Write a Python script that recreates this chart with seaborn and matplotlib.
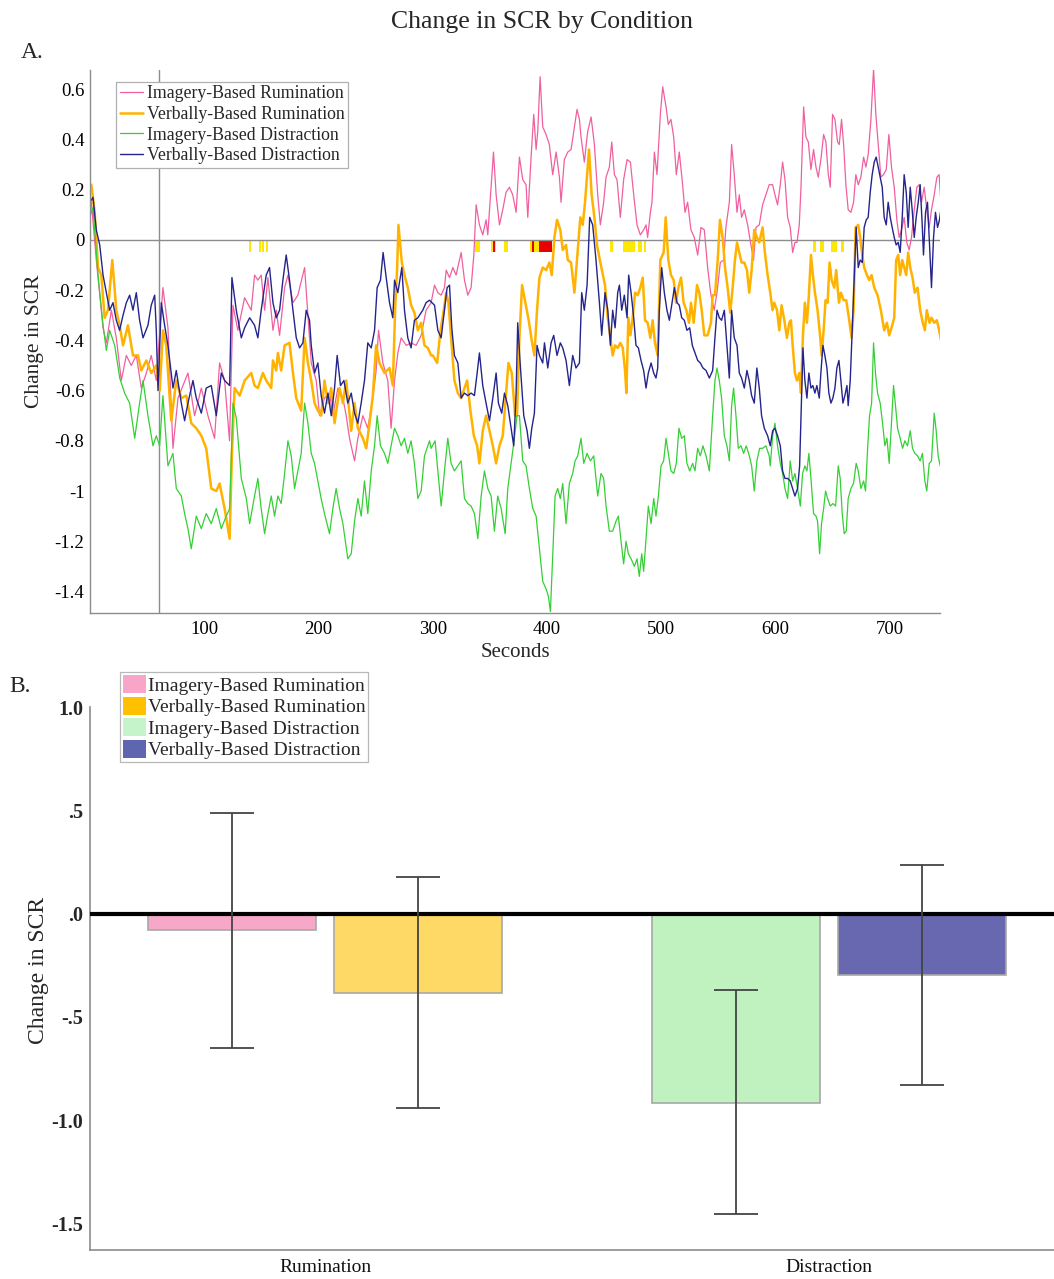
import matplotlib
matplotlib.use("Agg")
import matplotlib.pyplot as plt
from matplotlib.patches import Patch
from matplotlib.lines import Line2D
import seaborn as sns
import pandas as pd
import numpy as np

# ---------------- data: panel A (seconds, change in SCR) ----------------
imagery_rumination = [
(1.2,0.15),(5.5,-0.08),(11.4,-0.35),(14.3,-0.41),(18.7,-0.28),(23.0,-0.39),(27.4,-0.56),(31.8,-0.46),(36.1,-0.50),(40.5,-0.46),(44.9,-0.59),(49.3,-0.53),(53.6,-0.46),(58.0,-0.56),(63.8,-0.19),(68.2,-0.35),(72.6,-0.83),(77.0,-0.63),(81.3,-0.58),(85.7,-0.53),(91.5,-0.70),(97.4,-0.59),(103.2,-0.70),(109.0,-0.79),(113.4,-0.49),(117.8,-0.56),(122.1,-0.80),(125.1,-0.26),(129.4,-0.36),(135.3,-0.23),(141.1,-0.28),(144.0,-0.14),
(146.9,-0.16),(149.8,-0.14),(152.8,-0.28),(155.7,-0.15),(160.1,-0.36),(163.0,-0.28),(165.9,-0.38),(170.3,-0.19),(173.2,-0.14),(177.6,-0.25),(181.9,-0.22),(187.8,-0.11),(193.6,-0.49),(198.0,-0.56),(200.9,-0.70),(205.2,-0.63),(209.6,-0.61),(212.5,-0.70),(216.9,-0.59),(221.3,-0.63),(224.2,-0.70),(227.1,-0.79),(231.5,-0.88),(234.4,-0.79),(238.8,-0.70),(243.1,-0.75),(247.5,-0.63),(250.4,-0.52),(252.5,-0.36),(256.3,-0.49),(260.6,-0.56),(263.5,-0.75),(266.5,-0.56),(269.4,-0.45),(272.3,-0.39),(276.7,-0.42),(281.0,-0.41),(285.4,-0.42),(289.8,-0.38),(294.1,-0.28),(298.5,-0.25),
(301.5,-0.18),(304.4,-0.21),(307.3,-0.22),(310.2,-0.19),(311.7,-0.12),(314.6,-0.15),(317.5,-0.11),(320.4,-0.14),(323.3,-0.08),(324.8,-0.05),(327.7,-0.16),(330.6,-0.22),(333.5,-0.19),(335.9,-0.06),(337.9,0.14),(340.8,0.06),(343.7,0.02),(346.6,0.08),(348.1,0.02),(351.0,0.21),(353.1,0.35),(355.4,0.18),(358.3,0.06),(361.2,0.12),(364.1,0.19),(367.0,0.21),(369.9,0.18),(372.9,0.11),(375.8,0.33),(378.7,0.24),(381.6,0.22),(383.1,0.09),(386.0,0.33),(388.3,0.50),(390.4,0.36),(391.8,0.43),(393.9,0.65),(396.2,0.45),(399.1,0.42),(402.0,0.38),(404.9,0.26),(407.9,0.35),(410.8,0.25),(412.2,0.15),(415.1,0.32),(418.1,0.35),(421.0,0.36),(423.9,0.45),(426.2,0.52),(428.3,0.48),(429.7,0.41),(432.6,0.31),(435.5,0.43),(438.5,0.49),(441.4,0.38),(444.3,0.18),(446.6,0.06),
(449.5,0.15),(451.6,0.25),(454.5,0.29),(456.6,0.39),(458.9,0.26),(461.2,0.24),(464.1,0.09),(467.0,0.24),(470.0,0.32),(472.9,0.31),(475.8,0.18),(478.7,0.06),(481.6,0.02),(484.5,0.04),(486.6,0.06),(488.0,0.01),(490.4,0.11),(491.8,0.15),(493.9,0.35),(496.2,0.26),(499.1,0.50),(501.2,0.61),(504.1,0.53),(506.1,0.46),(508.4,0.48),(510.8,0.41),(513.1,0.26),(515.7,0.35),(518.6,0.22),(520.7,0.11),(523.0,0.15),(525.9,0.04),(528.8,0.01),(531.8,-0.06),(534.7,0.05),(537.6,0.04),(540.5,-0.11),(543.4,-0.22),(546.3,-0.28),(548.7,-0.21),(551.6,-0.09),(554.5,-0.08),(556.5,0.05),(559.5,0.15),(561.5,0.38),(563.8,0.26),(566.2,0.11),(568.2,0.18),(570.2,0.09),(572.6,0.12),(575.5,0.06),(578.4,-0.02),(580.7,-0.08),(582.8,0.05),(585.7,0.06),(588.6,0.14),(591.5,0.18),(594.4,0.22),
(597.4,0.22),(599.4,0.18),(601.7,0.14),(604.1,0.22),(606.1,0.31),(608.2,0.24),(610.5,0.09),(612.8,0.05),(614.9,-0.05),(616.9,-0.01),(618.7,-0.01),(620.7,0.06),(622.2,0.21),(624.5,0.53),(626.5,0.41),(628.6,0.39),(630.9,0.28),(633.2,0.36),(635.3,0.29),(637.3,0.25),(639.6,0.32),(642.0,0.42),(644.0,0.39),(646.1,0.26),(647.8,0.21),(649.8,0.50),(651.9,0.48),(654.2,0.39),(655.7,0.38),(657.7,0.48),(659.5,0.38),(661.5,0.22),(663.5,0.12),(665.9,0.11),(668.2,0.15),(670.2,0.26),(672.3,0.22),(674.6,0.25),(677.0,0.33),(679.0,0.29),(681.0,0.34),(683.4,0.48),(685.7,0.68),(687.7,0.50),(689.8,0.38),(692.1,0.25),(694.4,0.26),(696.8,0.28),(699.1,0.42),(701.4,0.29),(703.8,0.21),(706.1,0.08),(708.1,0.01),(710.2,0.04),(712.5,0.09),(714.8,-0.01),(716.9,-0.04),(718.9,0.01),(721.3,0.12),(723.6,0.21),(725.6,0.22),(727.7,0.15),(730.0,0.21),(732.3,0.12),(734.4,0.05),(736.4,0.12),(738.8,0.18),(741.1,0.25),(743.1,0.26),(745.2,0.11)]

verbal_rumination = [
(1.2,0.22),(4.1,0.11),(7.0,-0.11),(9.9,-0.14),(12.8,-0.31),(15.7,-0.28),(19.5,-0.08),(23.0,-0.28),(25.9,-0.34),(28.9,-0.42),(33.2,-0.34),(37.6,-0.46),(42.0,-0.46),(44.9,-0.52),(49.3,-0.48),(53.6,-0.53),(58.0,-0.50),(61.0,-0.60),(63.8,-0.36),(66.7,-0.42),(71.1,-0.72),(75.5,-0.56),(79.9,-0.63),(84.3,-0.62),(88.6,-0.73),(93.0,-0.75),(97.4,-0.78),(101.7,-0.83),(106.1,-0.99),(110.5,-1.00),(113.4,-0.97),(117.8,-1.07),(122.2,-1.19),(124.2,-0.85),(126.5,-0.59),(131.0,-0.62),(135.3,-0.56),(141.1,-0.53),(144.0,-0.58),
(146.9,-0.59),(151.3,-0.53),(154.2,-0.56),(158.6,-0.59),(160.1,-0.48),(163.0,-0.52),(164.4,-0.45),(167.3,-0.52),(170.3,-0.42),(174.6,-0.41),(177.6,-0.53),(180.5,-0.63),(184.8,-0.68),(187.8,-0.39),(190.7,-0.49),(193.6,-0.56),(196.5,-0.65),(199.4,-0.68),(202.3,-0.70),(205.2,-0.56),(208.2,-0.65),(211.1,-0.59),(214.0,-0.73),(218.4,-0.59),(221.3,-0.65),(224.2,-0.56),(228.6,-0.76),(231.5,-0.65),(234.4,-0.75),(238.8,-0.79),(241.7,-0.83),(244.6,-0.73),(247.5,-0.62),(250.4,-0.42),(253.3,-0.49),(257.7,-0.53),(262.1,-0.51),(265.0,-0.58),(267.0,-0.28),(268.8,-0.11),(269.9,0.06),(272.9,-0.09),(275.2,-0.14),(278.1,-0.19),(281.0,-0.26),(283.9,-0.29),(286.9,-0.36),(289.8,-0.33),(292.7,-0.42),(295.6,-0.43),(298.5,-0.46),
(300.0,-0.46),(303.8,-0.49),(306.7,-0.36),(309.6,-0.28),(311.7,-0.21),(313.7,-0.25),(316.0,-0.39),(318.9,-0.56),(321.9,-0.61),(324.8,-0.63),(327.7,-0.59),(330.0,-0.56),(332.9,-0.68),(335.9,-0.78),(338.8,-0.82),(340.8,-0.89),(343.7,-0.76),(346.6,-0.70),(349.6,-0.76),(352.5,-0.82),(355.4,-0.89),(358.3,-0.82),(361.2,-0.78),(364.1,-0.61),(366.2,-0.49),(369.1,-0.53),(372.0,-0.70),(373.7,-0.70),(375.8,-0.39),(378.1,-0.18),(381.0,-0.25),(383.9,-0.32),(386.9,-0.41),(388.9,-0.46),(391.2,-0.28),(393.3,-0.15),(396.2,-0.11),(399.1,-0.12),(402.0,-0.09),(404.1,-0.14),(406.4,0.01),(408.7,0.08),(411.6,0.04),(413.7,-0.04),(416.6,-0.02),(418.1,-0.08),(421.0,-0.09),(423.9,-0.21),(426.8,-0.04),(429.1,0.09),(431.2,0.06),(433.2,0.15),(435.0,0.26),(436.7,0.36),(439.0,0.18),(441.4,0.09),(443.7,-0.02),(446.6,-0.09),
(450.7,-0.18),(453.1,-0.31),(455.4,-0.39),(457.4,-0.46),(459.5,-0.42),(461.8,-0.43),(464.1,-0.41),(466.2,-0.43),(468.2,-0.52),(469.4,-0.61),(471.1,-0.31),(472.9,-0.38),(474.9,-0.31),(477.0,-0.21),(479.3,-0.22),(481.6,-0.19),(483.7,-0.15),(485.7,-0.32),(488.0,-0.33),(490.4,-0.39),(492.4,-0.32),(494.4,-0.41),(496.8,-0.46),(499.1,-0.08),(502.0,-0.05),(503.8,0.09),(506.1,-0.08),(508.4,-0.14),(510.8,-0.16),(512.8,-0.25),(514.9,-0.19),(517.2,-0.15),(519.5,-0.25),(521.9,-0.28),(524.2,-0.33),(525.9,-0.25),(528.3,-0.33),(531.2,-0.18),(533.2,-0.21),(535.3,-0.28),(537.6,-0.38),(540.5,-0.38),(543.4,-0.33),(544.9,-0.22),(546.9,-0.22),(549.3,-0.08),(551.3,0.08),(553.6,0.01),(555.7,-0.11),(558.0,-0.19),(560.3,-0.29),(562.4,-0.19),(564.4,-0.08),(566.2,-0.01),(568.2,-0.05),(570.2,-0.09),(572.6,-0.09),(574.9,-0.12),(576.9,-0.21),(579.0,-0.12),(581.3,0.04),(583.6,0.01),(585.7,-0.01),(588.6,0.05),(590.6,-0.05),(593.0,-0.14),(595.3,-0.21),(597.3,-0.28),
(598.8,-0.25),(601.2,-0.28),(603.2,-0.36),(605.2,-0.26),(607.6,-0.32),(609.9,-0.39),(611.9,-0.33),(613.4,-0.32),(614.9,-0.42),(616.9,-0.53),(618.7,-0.56),(620.7,-0.53),(622.2,-0.61),(623.9,-0.38),(625.6,-0.25),(627.4,-0.33),(629.1,-0.22),(630.9,-0.06),(632.6,-0.14),(634.4,-0.21),(636.7,-0.28),(639.1,-0.39),(640.2,-0.46),(642.0,-0.36),(643.7,-0.24),(645.5,-0.25),(647.2,-0.09),(649.0,-0.16),(651.3,-0.19),(653.0,-0.12),(655.4,-0.25),(657.1,-0.21),(659.5,-0.24),(661.8,-0.24),(664.1,-0.31),(666.5,-0.39),(668.2,-0.28),(670.0,0.05),(672.3,0.06),(674.0,0.01),(675.8,-0.06),(677.5,-0.11),(679.9,-0.14),(681.9,-0.16),(684.0,-0.14),(686.3,-0.19),(689.2,-0.22),(692.1,-0.28),(695.0,-0.36),(697.4,-0.33),(699.4,-0.38),(701.4,-0.35),(703.8,-0.31),(705.5,-0.08),(707.3,-0.06),(709.0,-0.14),(710.8,-0.08),(712.5,-0.11),(714.3,-0.14),(716.0,-0.05),(717.8,-0.11),(719.8,-0.15),(721.8,-0.21),(724.2,-0.19),(726.5,-0.28),(728.8,-0.33),(730.6,-0.36),(732.3,-0.28),(734.7,-0.33),(736.4,-0.31),(738.8,-0.33),(741.1,-0.32),(743.1,-0.36),(745.2,-0.41)]

imagery_distraction = [
(0.5,0.10),(2.6,0.13),(7.0,-0.14),(11.4,-0.34),(14.3,-0.44),(17.2,-0.36),(21.6,-0.42),(26.0,-0.55),(30.3,-0.61),(34.7,-0.65),(39.1,-0.79),(43.4,-0.65),(46.4,-0.56),(50.7,-0.70),(55.1,-0.82),(58.0,-0.78),(60.9,-0.82),(63.8,-0.62),(68.2,-0.90),(72.6,-0.85),(75.5,-0.99),(79.9,-1.02),(82.8,-1.09),(85.7,-1.15),(88.6,-1.23),(93.0,-1.10),(97.4,-1.15),(101.7,-1.09),(106.1,-1.13),(110.5,-1.07),(114.9,-1.15),(119.2,-1.10),(122.2,-1.07),(125.1,-0.65),(128.0,-0.71),(132.4,-0.95),(136.8,-1.03),(139.7,-1.13),(144.0,-1.02),
(146.9,-0.95),(149.8,-1.07),(152.8,-1.17),(155.7,-1.09),(158.6,-1.02),(161.5,-1.10),(164.4,-1.02),(167.3,-1.05),(170.3,-0.93),(173.2,-0.80),(176.1,-0.86),(179.0,-0.99),(181.9,-0.92),(184.8,-0.85),(187.8,-0.65),(190.7,-0.73),(193.6,-0.85),(196.5,-0.89),(199.4,-0.96),(202.3,-1.03),(205.2,-1.09),(209.6,-1.17),(212.5,-1.07),(215.4,-0.99),(218.4,-1.07),(221.3,-1.13),(225.6,-1.27),(228.6,-1.25),(231.5,-1.12),(234.4,-1.03),(237.3,-1.10),(240.2,-0.96),(243.1,-1.09),(246.1,-0.92),(249.0,-0.82),(251.3,-0.70),(254.2,-0.82),(257.7,-0.85),(260.6,-0.89),(263.5,-0.82),(266.5,-0.75),(269.4,-0.78),(272.3,-0.82),(275.2,-0.79),(278.1,-0.85),(281.0,-0.80),(283.9,-0.89),(286.9,-1.03),(289.8,-1.00),(292.7,-0.86),(297.1,-0.80),
(298.5,-0.83),(302.0,-0.80),(304.4,-0.92),(307.3,-1.06),(310.2,-0.92),(313.1,-0.79),(316.0,-0.89),(318.9,-0.92),(321.9,-0.90),(324.8,-0.88),(327.7,-1.03),(330.6,-1.05),(333.5,-1.06),(336.4,-1.09),(339.4,-1.19),(342.3,-1.02),(345.2,-0.92),(348.1,-0.99),(351.0,-1.02),(353.9,-1.16),(356.8,-1.02),(359.8,-1.07),(363.3,-1.17),(365.6,-0.99),(368.5,-0.89),(371.4,-0.79),(373.7,-0.70),(375.8,-0.70),(378.7,-0.88),(381.6,-0.90),(384.5,-0.99),(387.5,-1.07),(390.4,-1.10),(393.3,-1.23),(396.2,-1.36),(399.1,-1.39),(401.2,-1.42),(402.9,-1.48),(405.0,-1.25),(407.0,-1.02),(409.3,-0.99),(411.6,-1.03),(413.7,-0.97),(416.6,-1.13),(419.5,-0.97),(422.4,-0.93),(424.5,-0.88),(426.8,-0.86),(429.7,-0.79),(432.1,-0.89),(435.0,-0.85),(437.9,-0.88),(440.8,-0.86),(444.3,-1.02),(447.2,-0.93),
(449.5,-0.95),(451.6,-1.06),(454.5,-1.16),(457.4,-1.16),(460.3,-1.12),(462.4,-1.10),(464.7,-1.20),(467.0,-1.29),(469.1,-1.20),(471.1,-1.25),(473.5,-1.27),(476.4,-1.30),(478.7,-1.27),(480.7,-1.34),(482.8,-1.25),(484.5,-1.32),(486.6,-1.19),(488.6,-1.06),(491.0,-1.13),(493.3,-1.03),(495.3,-1.10),(497.4,-1.02),(499.7,-0.90),(502.0,-0.88),(504.1,-0.79),(506.1,-0.85),(508.4,-0.92),(510.8,-0.93),(513.1,-0.89),(515.4,-0.75),(517.8,-0.79),(520.1,-0.78),(522.4,-0.89),(524.8,-0.92),(527.4,-0.89),(529.4,-0.92),(531.8,-0.83),(534.1,-0.86),(536.4,-0.82),(539.1,-0.86),(542.0,-0.92),(544.9,-0.70),(546.9,-0.56),(548.7,-0.51),(550.7,-0.56),(552.7,-0.63),(555.1,-0.78),(557.4,-0.82),(559.5,-0.88),(561.5,-0.66),(563.2,-0.59),(565.3,-0.70),(567.3,-0.83),(569.7,-0.82),(572.0,-0.85),(574.3,-0.82),(577.0,-0.86),(579.0,-0.90),(581.3,-1.00),(583.6,-0.88),(586.0,-0.83),(588.6,-0.83),(591.5,-0.82),(594.4,-0.86),
(595.3,-0.90),(597.4,-0.78),(599.4,-0.73),(601.7,-0.82),(604.1,-0.89),(606.1,-0.93),(608.2,-0.99),(610.5,-1.03),(612.8,-0.88),(614.9,-0.96),(616.9,-0.93),(619.2,-0.99),(621.6,-1.06),(623.6,-0.93),(625.6,-0.90),(627.4,-0.92),(629.1,-0.85),(630.9,-0.95),(633.2,-1.09),(635.3,-1.10),(636.7,-1.12),(638.5,-1.25),(640.2,-1.13),(642.0,-1.07),(643.7,-1.00),(645.5,-1.03),(647.8,-1.06),(650.1,-1.05),(652.5,-1.06),(654.8,-0.90),(656.5,-0.95),(658.3,-1.09),(660.0,-1.17),(661.8,-1.16),(663.5,-1.03),(665.9,-0.99),(668.2,-0.97),(670.5,-0.89),(672.3,-0.92),(674.6,-0.99),(677.0,-0.96),(678.7,-1.00),(680.5,-0.83),(682.2,-0.70),(684.0,-0.65),(685.7,-0.41),(687.4,-0.53),(689.2,-0.61),(691.5,-0.65),(693.6,-0.73),(695.6,-0.82),(697.4,-0.79),(699.4,-0.89),(701.4,-0.73),(703.2,-0.58),(704.9,-0.66),(706.7,-0.75),(709.0,-0.79),(711.1,-0.83),(713.1,-0.80),(715.4,-0.82),(717.8,-0.76),(719.8,-0.83),(721.8,-0.85),(724.2,-0.86),(726.5,-0.88),(728.5,-0.85),(730.6,-0.96),(732.3,-1.00),(734.4,-0.89),(736.4,-0.88),(738.8,-0.69),(740.5,-0.76),(742.2,-0.86),(744.0,-0.90),(745.2,-0.90)]

verbal_distraction = [
(0.0,0.15),(2.6,0.17),(5.5,0.04),(8.5,-0.02),(11.4,-0.14),(14.3,-0.21),(17.2,-0.28),(20.1,-0.25),(23.0,-0.32),(25.9,-0.36),(28.9,-0.30),(31.8,-0.25),(34.7,-0.22),(37.6,-0.28),(40.5,-0.21),(43.4,-0.32),(46.4,-0.39),(50.7,-0.34),(53.6,-0.26),(56.6,-0.22),(58.0,-0.36),(59.5,-0.60),(62.4,-0.25),(65.3,-0.34),(68.2,-0.42),(72.6,-0.59),(75.5,-0.52),(79.9,-0.65),(82.8,-0.72),(85.7,-0.65),(90.1,-0.56),(93.0,-0.63),(97.4,-0.69),(101.7,-0.59),(106.1,-0.58),(110.5,-0.70),(114.9,-0.53),(117.8,-0.56),(122.2,-0.58),(124.2,-0.15),(128.0,-0.28),(132.4,-0.39),(135.3,-0.35),(139.7,-0.31),(144.0,-0.34),
(146.9,-0.39),(149.8,-0.28),(154.2,-0.14),(157.1,-0.11),(160.1,-0.25),(163.0,-0.31),(165.9,-0.28),(168.8,-0.16),(171.7,-0.06),(174.6,-0.16),(177.6,-0.28),(180.5,-0.39),(183.4,-0.43),(186.3,-0.41),(189.2,-0.28),(192.1,-0.32),(193.6,-0.42),(196.5,-0.53),(199.4,-0.49),(202.3,-0.62),(205.2,-0.69),(208.2,-0.61),(211.1,-0.70),(214.0,-0.59),(216.3,-0.46),(219.2,-0.58),(222.2,-0.56),(225.6,-0.65),(228.6,-0.61),(231.5,-0.69),(234.4,-0.73),(237.3,-0.65),(240.2,-0.56),(243.1,-0.41),(246.1,-0.43),(249.0,-0.36),(251.3,-0.19),(254.2,-0.16),(256.5,-0.05),(259.2,-0.15),(262.1,-0.25),(265.0,-0.31),(266.5,-0.16),(269.4,-0.21),(272.9,-0.11),(275.2,-0.28),(278.1,-0.39),(281.0,-0.43),(283.9,-0.32),(286.9,-0.31),(291.2,-0.28),(294.1,-0.25),(297.1,-0.24),
(301.5,-0.26),(304.4,-0.36),(307.3,-0.39),(310.2,-0.28),(312.5,-0.19),(314.6,-0.18),(316.6,-0.35),(318.9,-0.46),(321.9,-0.49),(324.8,-0.63),(327.7,-0.61),(330.6,-0.62),(333.5,-0.61),(336.4,-0.62),(338.8,-0.53),(340.8,-0.45),(343.7,-0.58),(346.6,-0.65),(349.6,-0.72),(352.5,-0.63),(355.4,-0.53),(357.4,-0.65),(360.3,-0.69),(362.7,-0.61),(365.6,-0.66),(368.5,-0.75),(370.8,-0.82),(372.9,-0.61),(374.3,-0.33),(376.7,-0.51),(379.6,-0.70),(382.5,-0.76),(384.5,-0.83),(386.6,-0.75),(388.9,-0.69),(391.2,-0.42),(393.3,-0.46),(396.2,-0.49),(397.7,-0.41),(400.6,-0.51),(403.5,-0.41),(405.8,-0.38),(408.7,-0.46),(411.6,-0.41),(413.7,-0.43),(416.6,-0.48),(419.5,-0.58),(422.4,-0.46),(425.3,-0.51),(428.3,-0.49),(430.3,-0.21),(432.6,-0.28),(435.0,-0.18),(437.3,0.09),(439.9,0.06),(442.8,-0.08),(445.8,-0.25),(447.8,-0.38),
(450.7,-0.21),(453.1,-0.28),(455.4,-0.42),(457.4,-0.28),(459.5,-0.35),(461.8,-0.21),(463.3,-0.18),(465.3,-0.28),(467.6,-0.22),(470.0,-0.31),(471.4,-0.14),(473.5,-0.21),(475.8,-0.31),(477.8,-0.42),(479.9,-0.43),(482.2,-0.48),(484.5,-0.52),(486.6,-0.59),(488.6,-0.53),(491.0,-0.49),(493.3,-0.53),(495.3,-0.55),(496.8,-0.51),(498.2,-0.28),(500.3,-0.11),(502.6,-0.21),(504.9,-0.28),(507.0,-0.32),(509.0,-0.26),(511.4,-0.19),(513.7,-0.25),(515.7,-0.26),(517.8,-0.31),(520.1,-0.32),(522.4,-0.36),(524.8,-0.35),(527.1,-0.42),(529.4,-0.45),(531.8,-0.48),(534.1,-0.49),(536.4,-0.51),(539.1,-0.52),(542.0,-0.55),(544.9,-0.52),(546.9,-0.39),(548.7,-0.28),(550.7,-0.31),(552.7,-0.32),(555.1,-0.28),(557.4,-0.42),(559.5,-0.55),(561.5,-0.28),(563.8,-0.39),(566.2,-0.42),(568.2,-0.53),(570.2,-0.55),(572.6,-0.59),(574.9,-0.52),(576.9,-0.56),(579.0,-0.62),(581.3,-0.65),(583.6,-0.51),(585.7,-0.59),(587.7,-0.70),(590.1,-0.75),(593.0,-0.78),(595.3,-0.82),
(597.4,-0.76),(599.4,-0.75),(601.7,-0.78),(604.1,-0.82),(606.1,-0.92),(608.2,-0.95),(610.5,-0.95),(612.8,-0.96),(614.9,-0.99),(616.9,-1.02),(619.2,-0.99),(621.0,-0.90),(622.2,-0.70),(623.9,-0.43),(625.6,-0.56),(627.4,-0.63),(629.1,-0.53),(630.9,-0.59),(632.6,-0.58),(634.4,-0.61),(636.1,-0.58),(638.2,-0.63),(639.6,-0.53),(641.4,-0.42),(643.1,-0.46),(644.9,-0.51),(646.6,-0.61),(648.4,-0.65),(650.1,-0.63),(651.9,-0.59),(653.6,-0.51),(655.4,-0.48),(657.1,-0.56),(658.9,-0.65),(660.6,-0.62),(662.4,-0.58),(663.5,-0.66),(665.3,-0.56),(667.0,-0.36),(668.8,-0.14),(670.5,0.05),(672.3,-0.11),(674.0,-0.08),(675.8,-0.09),(677.5,0.05),(679.3,0.08),(681.0,0.09),(682.8,0.19),(684.5,0.26),(686.3,0.31),(688.0,0.33),(689.8,0.29),(691.5,0.25),(693.3,0.21),(695.0,0.09),(696.8,0.06),(698.5,0.15),(700.3,0.09),(702.0,0.05),(703.8,0.01),(705.5,-0.02),(707.3,-0.01),(709.0,-0.05),(710.8,0.09),(712.5,0.26),(714.3,0.19),(716.0,0.05),(717.8,0.21),(719.5,0.12),(721.3,0.01),(723.0,0.09),(724.8,0.15),(726.5,0.22),(728.3,0.06),(729.4,-0.06),(731.2,0.11),(732.9,0.15),(734.7,-0.02),(736.4,-0.19),(738.2,0.01),(739.9,0.11),(741.7,0.05),(743.4,0.08),(745.2,0.14)]

series_labels = ["Imagery-Based Rumination", "Verbally-Based Rumination",
                 "Imagery-Based Distraction", "Verbally-Based Distraction"]

# significance intervals along the zero line (seconds)
sig_yellow = [(139.2,140.8),(147.9,149.5),(150.8,152.4),(154.3,155.9),(336.5,341.7),
              (350.5,355.5),(362.2,365.7),(384.7,393.0),(454.7,457.6),(466.3,476.5),
              (479.4,483.0),(484.7,487.0),(632.6,635.5),(638.4,642.2),(648.6,653.8),(656.8,660.2)]
sig_red = [(352.3,354.3),(386.7,388.5),(392.6,404.2)]
sig_depth = -0.05
onset_time = 60

x_ticks_a = [100, 200, 300, 400, 500, 600, 700]
y_ticks_a = [-1.4, -1.2, -1.0, -0.8, -0.6, -0.4, -0.2, 0.0, 0.2, 0.4, 0.6]
y_ticklabels_a = ["-1.4", "-1.2", "-1", "-0.8", "-0.6", "-0.4", "-0.2", "0", "0.2", "0.4", "0.6"]

# ---------------- data: panel B ----------------
bar_groups = ["Rumination", "Rumination", "Distraction", "Distraction"]
bar_modes = ["Imagery-Based", "Verbally-Based", "Imagery-Based", "Verbally-Based"]
bar_means = [-0.08, -0.385, -0.915, -0.295]
bar_err_low = [-0.65, -0.94, -1.455, -0.83]
bar_err_high = [0.485, 0.175, -0.37, 0.235]
y_ticks_b = [1.0, 0.5, 0.0, -0.5, -1.0, -1.5]
y_ticklabels_b = ["1.0", ".5", ".0", "-.5", "-1.0", "-1.5"]

# ---------------- styling ----------------
sns.set_style("white")
plt.rcParams["font.family"] = ["Liberation Serif", "DejaVu Serif"]
plt.rcParams["axes.unicode_minus"] = False

line_colors = ["#f0609e", "#ffb300", "#35cf35", "#24248c"]
line_widths = [0.9, 1.8, 0.9, 1.0]
bar_colors = ["#f7a8c8", "#ffd966", "#bff2bf", "#6868b0"]
legend_bar_colors = ["#f8a5c9", "#ffc000", "#c6f4ca", "#5f66b0"]
axis_gray = "#8c8c8c"

fig = plt.figure(figsize=(10.54, 12.79), dpi=100)

# ================= Panel A =================
ax1 = fig.add_axes([0.0854, 0.5207, 0.8066, 0.4246])
for (s, e) in sig_yellow:
    ax1.fill_between([s, e], sig_depth, 0, color="#ffe800", linewidth=0, zorder=1)
for (s, e) in sig_red:
    ax1.fill_between([s, e], sig_depth, 0, color="#e60000", linewidth=0, zorder=1.1)
ax1.axhline(0, color=axis_gray, lw=1.0, zorder=1.2)
ax1.axvline(onset_time, color=axis_gray, lw=1.0, zorder=1.2)

all_series = [imagery_rumination, verbal_rumination, imagery_distraction, verbal_distraction]
for data, col, lw, lab in zip(all_series, line_colors, line_widths, series_labels):
    t = [p[0] for p in data]
    v = [p[1] for p in data]
    sns.lineplot(x=t, y=v, ax=ax1, color=col, linewidth=lw, label=lab,
                 sort=False, estimator=None, zorder=2)

ax1.set_xlim(0, 744)
ax1.set_ylim(-1.486, 0.677)
ax1.set_xticks(x_ticks_a)
ax1.set_yticks(y_ticks_a)
ax1.set_yticklabels(y_ticklabels_a)
ax1.tick_params(axis="both", direction="in", length=4, color=axis_gray,
                labelsize=13.5, labelcolor="black")
ax1.tick_params(axis="x", pad=6)
ax1.tick_params(axis="y", pad=4)
for side in ["top", "right"]:
    ax1.spines[side].set_visible(False)
for side in ["left", "bottom"]:
    ax1.spines[side].set_color(axis_gray)
    ax1.spines[side].set_linewidth(1.0)
ax1.set_xlabel("Seconds", fontsize=15)
ax1.xaxis.set_label_coords(0.5, -0.056)
ax1.set_ylabel("Change in SCR", fontsize=15.5)
ax1.yaxis.set_label_coords(-0.054, 0.5)

handles = [Line2D([0], [0], color=c, lw=w) for c, w in zip(line_colors, line_widths)]
leg1 = ax1.legend(handles, series_labels, loc="upper left", bbox_to_anchor=(0.031, 0.978),
                  fontsize=12.8, frameon=True, fancybox=False, edgecolor="#b0b0b0",
                  framealpha=1, handlelength=1.3, handletextpad=0.2, labelspacing=0.2,
                  borderpad=0.2, borderaxespad=0)
leg1.get_frame().set_linewidth(0.9)

# ================= Panel B =================
ax2 = fig.add_axes([0.0854, 0.0227, 0.9146, 0.4245])
df = pd.DataFrame({"Strategy": bar_groups, "Mode": bar_modes, "Change": bar_means})
sns.barplot(data=df, x="Strategy", y="Change", hue="Mode", ax=ax2,
            order=["Rumination", "Distraction"], hue_order=["Imagery-Based", "Verbally-Based"],
            width=0.738, gap=0.1, errorbar=None, legend=False,
            edgecolor="#a8a8a8", linewidth=1.2, zorder=2)
bars = sorted(ax2.patches, key=lambda p: p.get_x())
centers = []
for p, c in zip(bars, bar_colors):
    p.set_facecolor(c)
    centers.append(p.get_x() + p.get_width() / 2)
means = np.array(bar_means)
ax2.errorbar(centers, means,
             yerr=[means - np.array(bar_err_low), np.array(bar_err_high) - means],
             fmt="none", ecolor="#444444", elinewidth=1.3, capsize=16, capthick=1.3, zorder=4)
ax2.axhline(0, color="black", lw=3.0, zorder=3)

ax2.set_xlim(-0.466, 1.446)
ax2.set_ylim(-1.628, 1.0)
ax2.set_yticks(y_ticks_b)
ax2.set_yticklabels(y_ticklabels_b)
ax2.tick_params(axis="both", length=0)
ax2.tick_params(axis="y", labelsize=14.5, pad=5)
ax2.tick_params(axis="x", labelsize=14, pad=6.5, labelcolor="#111111")
for lab in ax2.get_yticklabels():
    lab.set_fontweight("bold")
ax2.set_xlabel("")
ax2.set_ylabel("Change in SCR", fontsize=17)
ax2.yaxis.set_label_coords(-0.043, 0.514)
for side in ["top", "right"]:
    ax2.spines[side].set_visible(False)
for side in ["left", "bottom"]:
    ax2.spines[side].set_color(axis_gray)
    ax2.spines[side].set_linewidth(1.2)

bar_handles = [Patch(facecolor=c, edgecolor="none") for c in legend_bar_colors]
leg2 = fig.legend(bar_handles, series_labels, loc="upper left",
                  bbox_to_anchor=(120 / 1054, 1 - 672 / 1279),
                  fontsize=14, frameon=True, fancybox=False, edgecolor="#b8b8b8",
                  framealpha=1, handlelength=1.2, handleheight=1.05, handletextpad=0.08,
                  labelspacing=0.1, borderpad=0.15, borderaxespad=0)
leg2.get_frame().set_linewidth(0.9)

# ================= titles =================
fig.text(542 / 1054, 1 - 22 / 1279, "Change in SCR by Condition", ha="center", va="center",
         fontsize=18.5)
fig.text(32 / 1054, 1 - 53 / 1279, "A.", ha="center", va="center", fontsize=17)
fig.text(20 / 1054, 1 - 686 / 1279, "B.", ha="center", va="center", fontsize=17)

fig.savefig("out.png", dpi=100)
